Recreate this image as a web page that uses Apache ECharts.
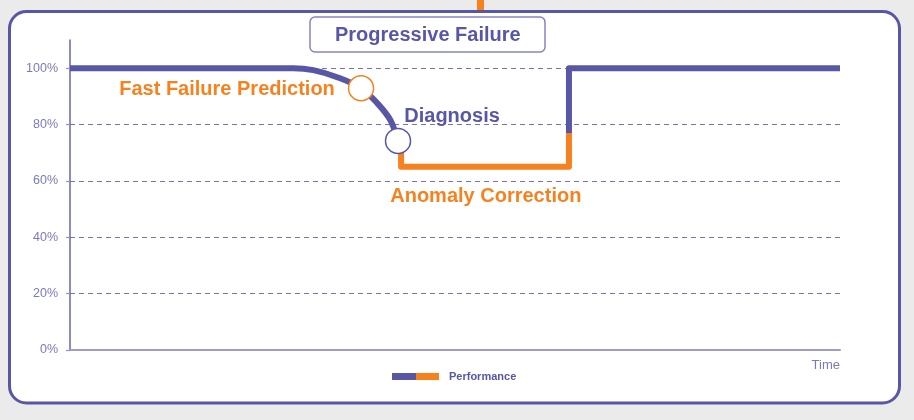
<!DOCTYPE html>
<html>
<head>
<meta charset="utf-8">
<script src="https://cdn.jsdelivr.net/npm/echarts@6/dist/echarts.min.js"></script>
<style>
html,body{margin:0;padding:0;background:#ebebeb;}
#chart{width:914px;height:420px;}
</style>
</head>
<body>
<div id="chart"></div>
<script>
// ---- data ----
var yTickValues = [0, 20, 40, 60, 80, 100];
// declining phase (purple)
var declineTime = [0, 29, 31.6, 34.7, 37.8, 39.9, 41.6, 42.6, 43.0];
var declinePerf = [100, 100, 99.3, 96.8, 92.9, 87.6, 81.6, 74.2, 70];
// corrected phase (orange)
var correctionTime = [43.0, 43.0, 64.8, 64.8];
var correctionPerf = [70, 65, 65, 77];
// recovered phase (purple)
var recoveryTime = [64.8, 64.8, 100];
var recoveryPerf = [77, 100, 100];
// event markers
var markerTime = [37.8, 42.6];
var markerPerf = [92.9, 74.2];
var markerLabels = ['Fast Failure Prediction', 'Diagnosis'];
// anomaly correction annotation anchor (on orange segment)
var correctionLabel = 'Anomaly Correction';
var correctionAnchor = [54, 65];

var PURPLE = '#5857a6';
var ORANGE = '#f5821f';
var LIGHT = '#7b79bd';
var FONT = '"Liberation Sans", Arial, Helvetica, sans-serif';

function zip(a, b) { return a.map(function (v, i) { return [v, b[i]]; }); }

var chart = echarts.init(document.getElementById('chart'), null, {renderer: 'canvas'});
var option = {
  backgroundColor: 'transparent',
  animation: false,
  textStyle: {fontFamily: FONT},
  graphic: [
    {type: 'rect', z: -10, shape: {x: 477, y: 0, width: 7, height: 12}, style: {fill: ORANGE}},
    {type: 'rect', z: -9, shape: {x: 9.5, y: 11.5, width: 890, height: 391.5, r: 17},
     style: {fill: '#ffffff', stroke: PURPLE, lineWidth: 3}}
  ],
  title: {
    text: 'Progressive Failure',
    left: 310, top: 17,
    padding: [8, 25, 6, 25],
    borderColor: '#8584c2', borderWidth: 1.5, borderRadius: 5,
    textStyle: {color: PURPLE, fontSize: 20, fontWeight: 'bold', fontFamily: FONT, lineHeight: 21}
  },
  legend: {
    left: 387, top: 366,
    data: [{
      name: 'Performance', icon: 'rect',
      itemStyle: {color: {type: 'linear', x: 0, y: 0, x2: 1, y2: 0,
        colorStops: [{offset: 0, color: PURPLE}, {offset: 0.5, color: PURPLE},
                     {offset: 0.5, color: ORANGE}, {offset: 1, color: ORANGE}]}}
    }],
    itemWidth: 47, itemHeight: 7,
    textStyle: {color: PURPLE, fontSize: 11, fontWeight: 'bold', fontFamily: FONT, padding: [0, 0, 0, 5]}
  },
  grid: {left: 70, right: 74, top: 40, bottom: 70},
  xAxis: {
    type: 'value', min: 0, max: 100,
    name: 'Time', nameLocation: 'end', nameGap: 0,
    nameTextStyle: {color: LIGHT, fontSize: 13, align: 'right', verticalAlign: 'top', padding: [9, 0, 0, 0], fontFamily: FONT},
    axisLine: {show: true, lineStyle: {color: '#9d9cd0', width: 2}},
    axisTick: {show: false}, axisLabel: {show: false}, splitLine: {show: false}
  },
  yAxis: {
    type: 'value', min: 0, max: 110, interval: 20,
    axisLine: {show: true, lineStyle: {color: '#6664b0', width: 1.5}},
    axisTick: {show: true, length: 4, customValues: yTickValues, lineStyle: {color: '#8e8dc6', width: 1.2}},
    axisLabel: {color: LIGHT, fontSize: 12.5, margin: 12, customValues: yTickValues,
      formatter: function (v) { return v + '%'; }, fontFamily: FONT},
    splitLine: {show: true, showMinLine: false,
      lineStyle: {color: '#7573b7', type: [5, 4], width: 1}}
  },
  series: [
    {name: 'Performance', type: 'line', data: zip(declineTime, declinePerf),
     smooth: 0.35, showSymbol: false, symbol: 'none', z: 3,
     lineStyle: {color: PURPLE, width: 6, join: 'round'}, itemStyle: {color: PURPLE}},
    {name: 'Correction', type: 'line', data: zip(correctionTime, correctionPerf),
     showSymbol: false, symbol: 'none', z: 3,
     lineStyle: {color: ORANGE, width: 6, join: 'round'}, itemStyle: {color: ORANGE}},
    {name: 'Recovery', type: 'line', data: zip(recoveryTime, recoveryPerf),
     showSymbol: false, symbol: 'none', z: 3,
     lineStyle: {color: PURPLE, width: 6, join: 'round'}, itemStyle: {color: PURPLE}},
    {name: 'Events', type: 'scatter', z: 5, symbol: 'circle', symbolSize: 25,
     itemStyle: {opacity: 1},
     data: [
       {value: [markerTime[0], markerPerf[0]],
        itemStyle: {color: '#ffffff', borderColor: ORANGE, borderWidth: 1.5, opacity: 1},
        label: {show: true, formatter: markerLabels[0], position: 'left', distance: 13,
                color: ORANGE, fontSize: 20, fontWeight: 'bold', fontFamily: FONT, offset: [0, 1]}},
       {value: [markerTime[1], markerPerf[1]],
        itemStyle: {color: '#ffffff', borderColor: PURPLE, borderWidth: 1.5, opacity: 1},
        label: {show: true, formatter: markerLabels[1], position: 'right', distance: 0,
                color: PURPLE, fontSize: 20, fontWeight: 'bold', fontFamily: FONT, offset: [-7, -24]}}
     ]},
    {name: 'Annotation', type: 'scatter', z: 4, symbolSize: 0, itemStyle: {opacity: 1},
     data: [{value: correctionAnchor,
       label: {show: true, formatter: correctionLabel, position: 'bottom', distance: 20,
               color: ORANGE, fontSize: 20, fontWeight: 'bold', fontFamily: FONT}}]}
  ]
};
chart.setOption(option);
</script>
</body>
</html>
